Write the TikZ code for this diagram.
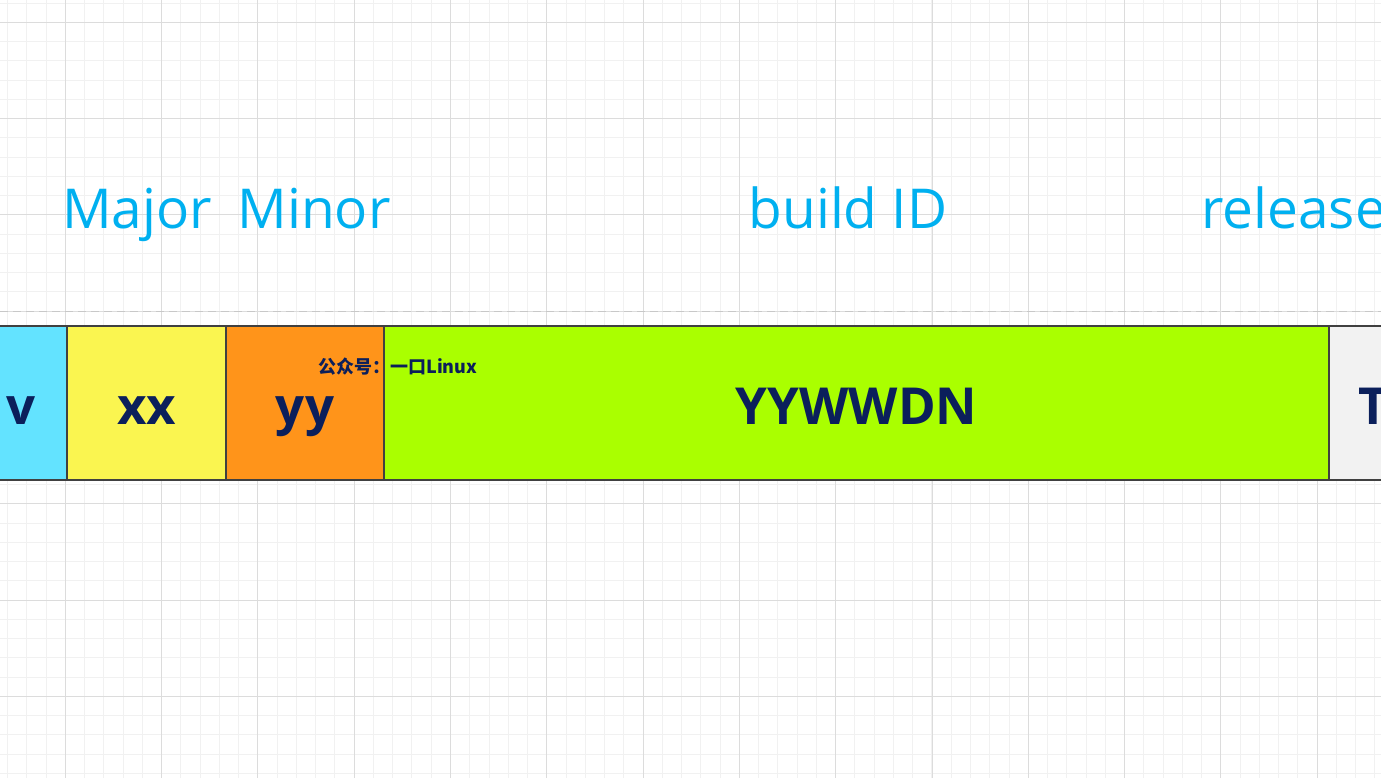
\documentclass[tikz,border=0pt]{standalone}
\usepackage{fontspec}
\setmainfont{Open Sans}
\newfontfamily\cjk{Noto Sans CJK SC}
\usepackage{xcolor}
\usetikzlibrary{positioning}

\definecolor{gridminor}{HTML}{F1F1F1}
\definecolor{gridmajor}{HTML}{DCDCDC}
\definecolor{dashgrey}{HTML}{C8C8C8}
\definecolor{boxline}{HTML}{404040}
\definecolor{ink}{HTML}{0B1F5B}
\definecolor{labelblue}{HTML}{00B0F0}
\definecolor{vfill}{HTML}{63E3FF}
\definecolor{xxfill}{HTML}{FAF550}
\definecolor{yyfill}{HTML}{FF941A}
\definecolor{idfill}{HTML}{AAFF00}
\definecolor{relfill}{HTML}{F2F2F2}

\begin{document}
\begin{tikzpicture}[x=0.5pt,y=-0.5pt,
  field/.style={draw=boxline, line width=1.25pt, minimum height=77pt, inner sep=0pt, outer sep=0pt,
    text height=21pt, text depth=0pt, text=ink, font=\bfseries\fontsize{25.5}{25.5}\selectfont},
  partlabel/.style={text=labelblue, anchor=base, inner sep=0pt, font=\fontsize{27.5}{27.5}\selectfont}]

\useasboundingbox (0,0) rectangle (1381,778);
\clip (0,0) rectangle (1381,778);

% Draw grid
\fill[white] (0,0) rectangle (1381,778);
\foreach \i in {0,...,72} \draw[gridminor, line width=0.5pt] (7.5+\i*19.26,0) -- ++(0,778);
\foreach \i in {0,...,41} \draw[gridminor, line width=0.5pt] (0,3.04+\i*19.26) -- ++(1381,0);
\foreach \i in {0,...,15} \draw[gridmajor, line width=0.5pt] (-31+\i*96.3,0) -- ++(0,778);
\foreach \i in {0,...,8} \draw[gridmajor, line width=0.5pt] (0,22.3+\i*96.3) -- ++(1381,0);
\draw[dashgrey, line width=0.6pt, dash pattern=on 4pt off 2.5pt] (0,311.5) -- (1381,311.5);

% Part names
\node[partlabel] (major) at (137,228) {Major};
\node[partlabel] (minor) at (314,228) {Minor};
\node[partlabel] (build) at (848,228) {build ID};
\node[partlabel, anchor=base west] (release) at (1201,228) {release};

% Version fields
\node[field, fill=vfill, minimum width=45.5pt, anchor=east] (vbox) at (67,403) {v};
\node[field, fill=xxfill, minimum width=79.5pt, right=0pt of vbox] (xxbox) {xx};
\node[field, fill=yyfill, minimum width=79pt, right=0pt of xxbox] (yybox) {yy};
\node[field, fill=idfill, minimum width=472.5pt, right=0pt of yybox] (idbox) {YYWWDN};
\node[field, fill=relfill, minimum width=44pt, right=0pt of idbox] (relbox) {T};

% Watermark
\node[anchor=base west, inner sep=0pt, text=ink, font=\cjk\bfseries\fontsize{9}{9}\selectfont] (mark) at (318,373) {公众号：一口Linux};

\end{tikzpicture}
\end{document}
